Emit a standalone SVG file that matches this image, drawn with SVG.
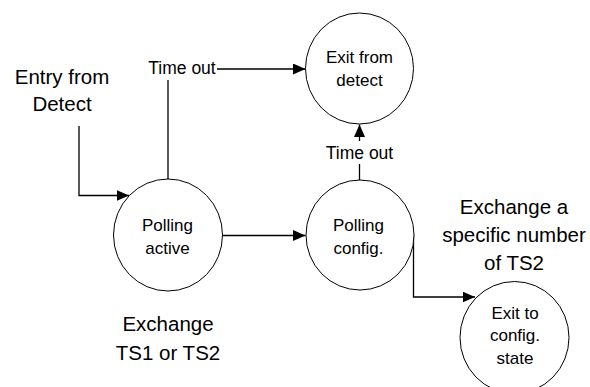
<svg xmlns="http://www.w3.org/2000/svg" width="590" height="387" viewBox="0 0 590 387">
  <style>
    .state { fill: #ffffff; stroke: #000000; stroke-width: 1; }
    .wire { fill: none; stroke: #000000; stroke-width: 1.3; }
    .txt { font-family: "Liberation Sans", Arial, sans-serif; fill: #000000; text-anchor: middle; }
    .node { font-size: 17px; }
    .note { font-size: 20.5px; }
    .lbl { font-size: 17.5px; }
    .lblbg { fill: #ffffff; stroke: none; }
  </style>
  <defs>
    <marker id="arrow" markerUnits="userSpaceOnUse" markerWidth="13" markerHeight="12" refX="12.5" refY="5.5" orient="auto">
      <path d="M0,0 L12.5,5.5 L0,11 Z" fill="#000000"/>
    </marker>
  </defs>

  <rect width="590" height="387" fill="#ffffff"/>

  <!-- transitions -->
  <g id="connectors">
    <path class="wire" d="M79,126 V195.5 H129" marker-end="url(#arrow)"/>
    <path class="wire" d="M168,179 V69 H305.5" marker-end="url(#arrow)"/>
    <path class="wire" d="M222.5,235.5 H305.5" marker-end="url(#arrow)"/>
    <path class="wire" d="M359.5,180 V124.5" marker-end="url(#arrow)"/>
    <path class="wire" d="M413.5,234 V297 H475" marker-end="url(#arrow)"/>
    <!-- transition labels -->
    <rect class="lblbg" x="145" y="57" width="72" height="23"/>
    <text class="txt lbl" x="182" y="74">Time out</text>
    <rect class="lblbg" x="323" y="141" width="73" height="23"/>
    <text class="txt lbl" x="359.5" y="158.5">Time out</text>
  </g>

  <g id="entry-from-detect">
    <text class="txt note" x="62" y="83.5">Entry from</text>
    <text class="txt note" x="62" y="110.5">Detect</text>
  </g>

  <g id="exit-from-detect">
    <ellipse class="state" cx="359.5" cy="68.5" rx="54" ry="55.5"/>
    <text class="txt node" x="359.5" y="62.5">Exit from</text>
    <text class="txt node" x="359.5" y="86">detect</text>
  </g>

  <g id="polling-active">
    <ellipse class="state" cx="168" cy="235" rx="54.5" ry="56"/>
    <text class="txt node" x="167.5" y="231">Polling</text>
    <text class="txt node" x="167.5" y="253.5">active</text>
  </g>

  <g id="polling-config">
    <ellipse class="state" cx="360" cy="235" rx="54" ry="55"/>
    <text class="txt node" x="358.5" y="231">Polling</text>
    <text class="txt node" x="358.5" y="253.5">config.</text>
  </g>

  <g id="exit-to-config">
    <ellipse class="state" cx="514.5" cy="337.5" rx="54.5" ry="56"/>
    <text class="txt node" x="515" y="318.5">Exit to</text>
    <text class="txt node" x="515" y="340.5">config.</text>
    <text class="txt node" x="515" y="363.5">state</text>
  </g>

  <g id="note-polling-active">
    <text class="txt note" x="168" y="331">Exchange</text>
    <text class="txt note" x="168" y="359.5">TS1 or TS2</text>
  </g>

  <g id="note-polling-config">
    <text class="txt note" x="514" y="213.5">Exchange a</text>
    <text class="txt note" x="514" y="242">specific number</text>
    <text class="txt note" x="514" y="270">of TS2</text>
  </g>
</svg>
